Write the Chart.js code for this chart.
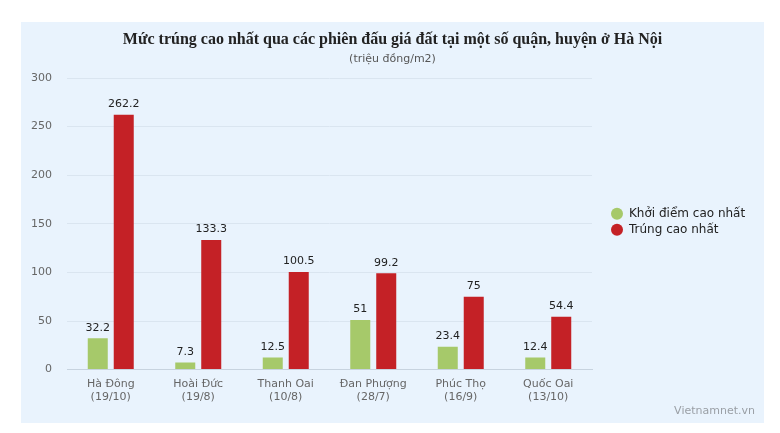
<!DOCTYPE html>
<html>
<head>
<meta charset="utf-8">
<script src="https://cdn.jsdelivr.net/npm/chart.js@4.4.1/dist/chart.umd.min.js"></script>
<style>
  html, body { margin: 0; padding: 0; background: #fff; }
  #panel { position: absolute; left: 21px; top: 22px; width: 743px; height: 401px; background: #e9f3fd; }
  #wm { position: absolute; right: 9px; bottom: 6px; font: 11px "DejaVu Sans", sans-serif; color: #9a9fa5; }
</style>
</head>
<body>
<div id="panel">
  <canvas id="chart" width="743" height="401"></canvas>
  <div id="wm">Vietnamnet.vn</div>
</div>
<script>
// Data
const districts = ['Hà Đông', 'Hoài Đức', 'Thanh Oai', 'Đan Phượng', 'Phúc Thọ', 'Quốc Oai'];
const dates = ['(19/10)', '(19/8)', '(10/8)', '(28/7)', '(16/9)', '(13/10)'];
const startPrice = [32.2, 7.3, 12.5, 51, 23.4, 12.4];
const winPrice = [262.2, 133.3, 100.5, 99.2, 75, 54.4];
const seriesNames = ['Khởi điểm cao nhất', 'Trúng cao nhất'];
const yTicks = [0, 50, 100, 150, 200, 250, 300];
const titleText = 'Mức trúng cao nhất qua các phiên đấu giá đất tại một số quận, huyện ở Hà Nội';
const subtitleText = '(triệu đồng/m2)';

const GREEN = '#a6c96a';
const RED = '#c42126';
const SANS = '"DejaVu Sans", sans-serif';

// title + subtitle centred on the whole panel (the built-in title centres
// inside the layout padding, which is wide on the right for the legend)
const headings = {
    id: 'headings',
    afterDraw(chart) {
        const { ctx } = chart;
        const cx = chart.width / 2;
        ctx.save();
        ctx.textAlign = 'center';
        ctx.textBaseline = 'middle';
        ctx.fillStyle = '#222';
        ctx.font = 'bold 16px "Liberation Serif", serif';
        ctx.fillText(titleText, cx, 18);
        ctx.fillStyle = '#555';
        ctx.font = '11px ' + SANS;
        ctx.fillText(subtitleText, cx, 37);
        ctx.restore();
    }
};

// value labels above each bar
const barLabels = {
    id: 'barLabels',
    afterDatasetsDraw(chart) {
        const { ctx } = chart;
        ctx.save();
        ctx.font = '11px ' + SANS;
        ctx.fillStyle = '#222';
        ctx.textAlign = 'center';
        ctx.textBaseline = 'bottom';
        chart.data.datasets.forEach((ds, i) => {
            chart.getDatasetMeta(i).data.forEach((bar, j) => {
                ctx.fillText(String(ds.data[j]), bar.x, bar.y - 5);
            });
        });
        ctx.restore();
    }
};

// legend on the right, drawn from dataset labels/colours
const sideLegend = {
    id: 'sideLegend',
    afterDraw(chart) {
        const { ctx, chartArea } = chart;
        const x = 596;
        const yMid = (chartArea.top + chartArea.bottom) / 2;
        ctx.save();
        ctx.font = '12px ' + SANS;
        ctx.textBaseline = 'middle';
        chart.data.datasets.forEach((ds, i) => {
            const y = yMid - 10 + i * 16;
            ctx.beginPath();
            ctx.fillStyle = ds.backgroundColor;
            ctx.arc(x, y, 6, 0, Math.PI * 2);
            ctx.fill();
            ctx.fillStyle = '#222';
            ctx.fillText(ds.label, x + 12, y);
        });
        ctx.restore();
    }
};

new Chart(document.getElementById('chart'), {
    type: 'bar',
    data: {
        labels: districts.map((d, i) => [d, dates[i]]),
        datasets: [
            { label: seriesNames[0], data: startPrice, backgroundColor: GREEN },
            { label: seriesNames[1], data: winPrice, backgroundColor: RED }
        ]
    },
    options: {
        responsive: false,
        animation: false,
        categoryPercentage: 0.594,
        barPercentage: 0.77,
        layout: { padding: { left: 0, right: 172, top: 56, bottom: 11 } },
        plugins: {
            legend: { display: false },
            tooltip: { enabled: false }
        },
        scales: {
            x: {
                grid: { display: false, drawTicks: false },
                border: { color: '#c7d3df' },
                ticks: { color: '#666', font: { family: SANS, size: 11 }, padding: 8, maxRotation: 0 }
            },
            y: {
                min: 0,
                max: 300,
                afterBuildTicks(axis) { axis.ticks = yTicks.map(v => ({ value: v })); },
                afterFit(axis) { axis.width = 46; },
                grid: { color: '#dae5f0', drawTicks: false },
                border: { display: false },
                ticks: { color: '#666', font: { family: SANS, size: 11 }, padding: 15 }
            }
        }
    },
    plugins: [headings, barLabels, sideLegend]
});
</script>
</body>
</html>
